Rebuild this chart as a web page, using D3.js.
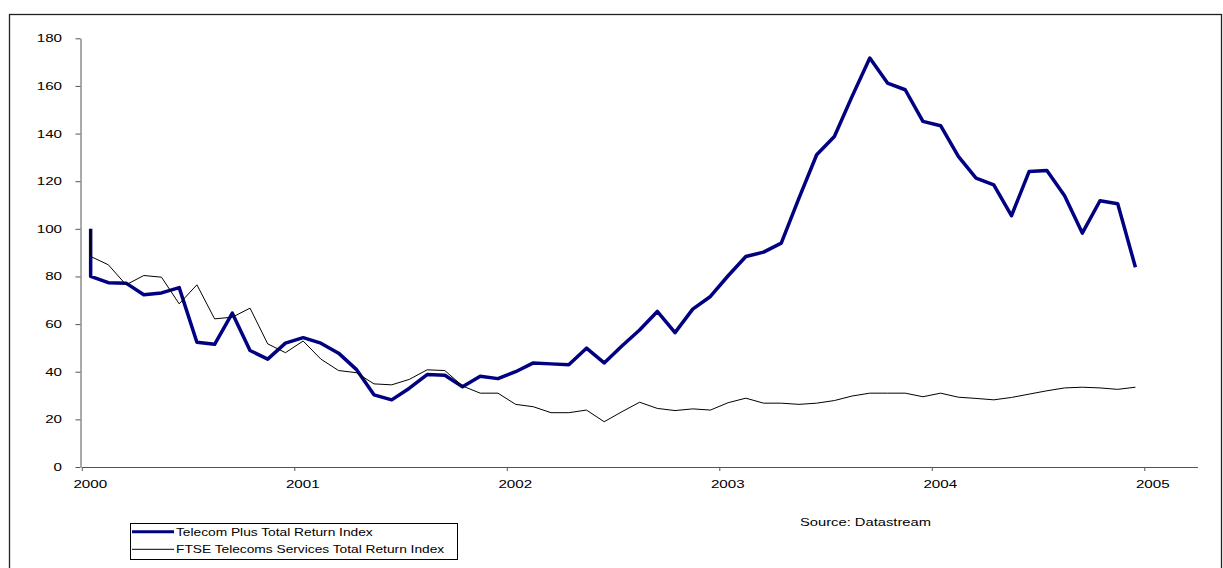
<!DOCTYPE html>
<html>
<head>
<meta charset="utf-8">
<script src="https://cdn.jsdelivr.net/npm/d3@7"></script>
<style>
  body { margin: 0; background: #fff; }
  text { font-family: Arial, "Liberation Sans", sans-serif; fill: #000; }
</style>
</head>
<body>
<div id="chart"></div>
<script>
//Data (monthly, index = 100 at start)
var months = [
  "2000-01","2000-01","2000-02","2000-03","2000-04","2000-05","2000-06","2000-07","2000-08","2000-09","2000-10","2000-11","2000-12",
  "2001-01","2001-02","2001-03","2001-04","2001-05","2001-06","2001-07","2001-08","2001-09","2001-10","2001-11","2001-12",
  "2002-01","2002-02","2002-03","2002-04","2002-05","2002-06","2002-07","2002-08","2002-09","2002-10","2002-11","2002-12",
  "2003-01","2003-02","2003-03","2003-04","2003-05","2003-06","2003-07","2003-08","2003-09","2003-10","2003-11","2003-12",
  "2004-01","2004-02","2004-03","2004-04","2004-05","2004-06","2004-07","2004-08","2004-09","2004-10","2004-11","2004-12"
]

var telecomPlus = [
  100, 80, 77.4, 77.2, 72.3, 73.1, 75.3, 52.4, 51.5, 64.6, 48.9, 45.3, 52.0,
  54.3, 52.0, 47.8, 41.0, 30.3, 28.2, 33.1, 38.8, 38.5, 33.7, 38.1, 37.1,
  40.0, 43.7, 43.3, 42.9, 49.9, 43.7, 50.8, 57.5, 65.3, 56.4, 66.3, 71.6,
  80.3, 88.4, 90.2, 94.0, 112.9, 131.1, 138.8, 155.6, 171.7, 161.2, 158.4, 145.1,
  143.3, 130.4, 121.3, 118.5, 105.5, 124.1, 124.5, 113.9, 98.2, 111.8, 110.5, 83.9
]

var ftseTelecoms = [
  100, 88.4, 84.9, 76.5, 80.4, 79.7, 68.5, 76.5, 62.2, 62.9, 66.7, 51.7, 48.0,
  52.9, 45.3, 40.5, 39.6, 34.9, 34.5, 36.8, 40.8, 40.5, 34.0, 31.0, 31.0,
  26.3, 25.3, 22.8, 22.8, 23.9, 19.0, 23.2, 27.2, 24.6, 23.7, 24.4, 23.9,
  27.0, 28.9, 26.8, 26.8, 26.3, 26.8, 27.9, 29.8, 31.0, 31.0, 31.0, 29.5,
  31.0, 29.3, 28.8, 28.2, 29.2, 30.6, 32.0, 33.2, 33.5, 33.2, 32.6, 33.5
]

var yTicks = [0, 20, 40, 60, 80, 100, 120, 140, 160, 180]
var yearLabels = ["2000", "2001", "2002", "2003", "2004", "2005"]

var seriesNames = ["Telecom Plus Total Return Index", "FTSE Telecoms Services Total Return Index"]

var width = 1223
var height = 568

var svg = d3.select("#chart")
  .append("svg")
  .attr("width", width)
  .attr("height", height)

//Outer chart frame
svg.append("rect")
  .attr("x", 9.5)
  .attr("y", 14.5)
  .attr("width", 1212)
  .attr("height", 570)
  .attr("fill", "none")
  .attr("stroke", "#222")
  .attr("stroke-width", 1.3)

//Month index from "yyyy-mm"
function monthIndex(s) {
  var p = s.split("-")
  return (Number(p[0]) - 2000) * 12 + Number(p[1]) - 1
}

//Scales: x in months since Jan 2000, axis runs on to spring 2005
var xScale = d3.scaleLinear()
  .domain([0, 63])
  .range([81.8, 1197.4])

var yScale = d3.scaleLinear()
  .domain([0, 180])
  .range([467, 38.3])

//Excel type text is stretched sideways in the picture
var axisStretch = 1.38

var yAxis = d3.axisLeft(yScale)
  .tickValues(yTicks)
  .tickSize(5)
  .tickSizeOuter(0)

var gy = svg.append("g")
  .attr("transform", "translate(80.5,0)")
  .call(yAxis)

gy.selectAll("text")
  .attr("x", -18.5 / axisStretch)
  .attr("transform", "scale(" + axisStretch + ",1)")
  .style("font-size", "11px")

var xAxis = d3.axisBottom(xScale)
  .tickValues([0, 12, 24, 36, 48, 60])
  .tickFormat(function(d, i) { return yearLabels[i] })
  .tickSize(4)
  .tickSizeOuter(0)

var gx = svg.append("g")
  .attr("transform", "translate(0,467)")
  .call(xAxis)

gx.selectAll("text")
  .attr("x", 8 / axisStretch)
  .attr("y", 13)
  .attr("transform", "scale(" + axisStretch + ",1)")
  .style("font-size", "11px")

svg.selectAll(".domain, .tick line")
  .attr("stroke", "#555")

//Lines
function makeLine(values) {
  return d3.line()
    .x(function(d, i) { return xScale(monthIndex(months[i]) + 0.5) })
    .y(function(d) { return yScale(d) })(values)
}

svg.append("path")
  .attr("d", makeLine(telecomPlus))
  .attr("fill", "none")
  .attr("stroke", "#000080")
  .attr("stroke-width", 3.5)
  .attr("stroke-linejoin", "round")

svg.append("path")
  .attr("d", makeLine(ftseTelecoms))
  .attr("fill", "none")
  .attr("stroke", "#000")
  .attr("stroke-width", 1)

//Legend
var legend = svg.append("g")

legend.append("rect")
  .attr("x", 130.5)
  .attr("y", 523.5)
  .attr("width", 327)
  .attr("height", 36)
  .attr("fill", "#fff")
  .attr("stroke", "#000")
  .attr("stroke-width", 1)

var legendStyles = [
  {color: "#000080", w: 3, y: 531.7},
  {color: "#000", w: 1, y: 549.3}
]

seriesNames.forEach(function(name, i) {
  legend.append("line")
    .attr("x1", 132)
    .attr("x2", 174)
    .attr("y1", legendStyles[i].y)
    .attr("y2", legendStyles[i].y)
    .attr("stroke", legendStyles[i].color)
    .attr("stroke-width", legendStyles[i].w)

  legend.append("text")
    .attr("transform", "translate(176," + (legendStyles[i].y + 3.8) + ") scale(1.25,1)")
    .style("font-size", "11px")
    .text(name)
})

//Source note
svg.append("text")
  .attr("transform", "translate(800,525.5) scale(1.34,1)")
  .style("font-size", "11px")
  .text("Source: Datastream")
</script>
</body>
</html>
